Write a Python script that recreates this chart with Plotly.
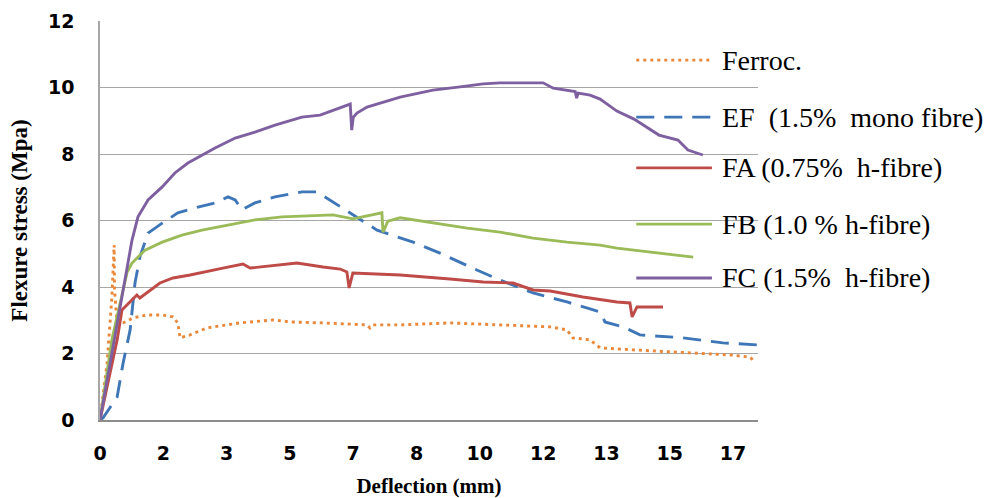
import plotly.graph_objects as go

# ---------------- data (deflection mm, flexure stress MPa) ----------------
names = ["Ferroc.", "EF\u00a0 (1.5%\u00a0 mono fibre)", "FA (0.75%\u00a0 h-fibre)",
         "FB (1.0 % h-fibre)", "FC (1.5%\u00a0 h-fibre)"]

ferroc_x = [0, 0.19, 0.32, 0.38, 0.39, 0.46, 0.62, 0.89, 1.26, 1.67, 1.96, 2.09, 2.15, 2.42, 2.87,
            3.76, 4.65, 5.10, 5.99, 6.45, 7.17, 7.25, 7.33, 8.06, 9.40, 10.74, 12.09, 12.54, 12.70,
            13.16, 13.43, 14.31, 15.66, 17.00, 17.46, 17.59]
ferroc_y = [0, 1.71, 3.70, 5.26, 3.91, 2.92, 2.92, 3.07, 3.16, 3.16, 3.10, 2.92, 2.47, 2.56, 2.77,
            2.92, 3.01, 2.95, 2.92, 2.89, 2.86, 2.77, 2.86, 2.86, 2.92, 2.86, 2.80, 2.71, 2.47,
            2.41, 2.17, 2.11, 2.02, 1.95, 1.89, 1.74]

ef_x = [0, 0.08, 0.46, 0.62, 0.81, 0.94, 1.07, 1.29, 1.67, 2.09, 2.55, 3.09, 3.44, 3.63, 3.81,
        4.16, 4.70, 5.42, 5.83, 6.45, 6.90, 7.44, 8.41, 9.13, 10.12, 10.74, 11.63, 12.54, 13.16,
        13.43, 13.56, 14.05, 14.50, 15.66, 16.73, 17.64]
ef_y = [0, 0.06, 0.69, 1.71, 2.71, 4.12, 4.90, 5.62, 5.92, 6.23, 6.38, 6.53, 6.71, 6.62, 6.32,
        6.53, 6.71, 6.86, 6.86, 6.41, 6.11, 5.71, 5.35, 5.02, 4.51, 4.21, 3.82, 3.55, 3.34,
        3.25, 2.95, 2.80, 2.56, 2.47, 2.32, 2.26]

fa_x = [0, 0.46, 0.59, 0.81, 0.99, 1.07, 1.26, 1.61, 1.96, 2.42, 3.30, 3.84, 4.03, 4.75, 5.29,
        5.99, 6.45, 6.63, 6.69, 6.79, 8.06, 9.40, 10.29, 11.09, 11.63, 12.09, 12.97, 13.88,
        14.23, 14.29, 14.42, 15.12]
fa_y = [0, 2.41, 3.31, 3.55, 3.76, 3.67, 3.82, 4.12, 4.27, 4.36, 4.57, 4.69, 4.57, 4.66, 4.72,
        4.60, 4.54, 4.45, 3.97, 4.42, 4.36, 4.24, 4.15, 4.12, 3.91, 3.88, 3.70, 3.55,
        3.52, 3.10, 3.40, 3.40]

fb_x = [0, 0.32, 0.59, 0.73, 0.86, 1.21, 1.67, 2.20, 2.74, 3.44, 4.16, 4.89, 5.42, 6.26, 6.79,
        7.52, 7.57, 7.60, 7.73, 8.06, 8.94, 9.86, 10.74, 11.63, 12.54, 13.43, 13.88, 14.31,
        15.04, 15.93]
fb_y = [0, 2.41, 3.76, 4.45, 4.72, 5.11, 5.35, 5.56, 5.71, 5.86, 6.02, 6.11, 6.14, 6.17, 6.05,
        6.23, 6.23, 5.65, 5.98, 6.08, 5.92, 5.77, 5.65, 5.47, 5.35, 5.26, 5.17, 5.11,
        5.02, 4.90]

fc_x = [0, 0.62, 0.86, 1.02, 1.29, 1.67, 2.01, 2.36, 2.74, 3.09, 3.63, 4.16, 4.70, 5.42, 5.91,
        6.72, 6.76, 6.80, 6.90, 7.17, 8.06, 8.94, 9.67, 10.29, 10.74, 11.90, 12.17, 12.70,
        12.76, 12.80, 12.84, 13.16, 13.43, 13.88, 14.34, 15.01, 15.52, 15.79, 16.19]
fc_y = [0, 3.91, 5.41, 6.11, 6.62, 7.01, 7.43, 7.73, 7.97, 8.18, 8.48, 8.66, 8.87, 9.11, 9.17,
        9.50, 8.72, 9.10, 9.23, 9.41, 9.71, 9.92, 10.02, 10.11, 10.14, 10.14, 9.98, 9.89,
        9.88, 9.68, 9.83, 9.77, 9.65, 9.29, 9.05, 8.57, 8.42, 8.12, 7.97]

# category-style x labels (evenly spaced, as in the original chart)
x_tick_labels = ["0", "2", "3", "5", "7", "8", "10", "12", "13", "15", "17"]
x_tick_step = 1.7
y_ticks = [0, 2, 4, 6, 8, 10, 12]

# ---------------- styling ----------------
colors = ["#E9883A", "#3E76B8", "#BE4B48", "#9BBB59", "#7E60A0"]
dashes = ["3px,4px", "18px,10px", "solid", "solid", "solid"]
series = [(ferroc_x, ferroc_y), (ef_x, ef_y), (fa_x, fa_y), (fb_x, fb_y), (fc_x, fc_y)]

fig = go.Figure()
for (xs, ys), nm, c, d in zip(series, names, colors, dashes):
    fig.add_trace(go.Scatter(x=xs, y=ys, mode="lines", name=nm, showlegend=False,
                             line=dict(color=c, width=2.9, dash=d)))

# manual legend (line samples + text), placed like the original
legend_y = [0.902, 0.759, 0.632, 0.491, 0.356]
for nm, c, d, ly in zip(names, colors, dashes, legend_y):
    fig.add_shape(type="line", xref="paper", yref="paper", x0=0.815, x1=0.930, y0=ly, y1=ly,
                  line=dict(color=c, width=2.9, dash=d))
    fig.add_annotation(xref="paper", yref="paper", x=0.942, y=ly, text=nm, showarrow=False,
                       xanchor="left", yanchor="middle",
                       font=dict(family="Liberation Serif", size=28, color="#000000"))

fig.update_layout(
    width=1008, height=498,
    margin=dict(l=100, r=250, t=21, b=78),
    paper_bgcolor="white", plot_bgcolor="white",
    showlegend=False,
)
fig.update_xaxes(
    range=[0, 17.67], tickmode="array", automargin=False,
    tickvals=[i * x_tick_step for i in range(len(x_tick_labels))], ticktext=x_tick_labels,
    showgrid=False, zeroline=False, showline=True, linecolor="#8c8c8c", linewidth=1.5,
    ticks="", ticklabelstandoff=15,
    tickfont=dict(family="DejaVu Sans", size=19, color="#000000", weight="bold"),
    title=dict(text="<b>Deflection (mm)</b>", standoff=16,
               font=dict(family="Liberation Serif", size=21, color="#000000")),
)
fig.update_yaxes(
    range=[0, 12], tickmode="array", tickvals=y_ticks, automargin=False,
    showgrid=True, gridcolor="#a6a6a6", gridwidth=1.3, zeroline=False,
    showline=True, linecolor="#a6a6a6", linewidth=1.5,
    ticks="", ticklabelstandoff=20,
    tickfont=dict(family="DejaVu Sans", size=19, color="#000000", weight="bold"),
    title=dict(text="<b>Flexure stress (Mpa)</b>", standoff=14,
               font=dict(family="Liberation Serif", size=23, color="#000000")),
)

fig.write_html("out.html", config={"displayModeBar": False},
               post_script="document.body.style.margin='0';")
